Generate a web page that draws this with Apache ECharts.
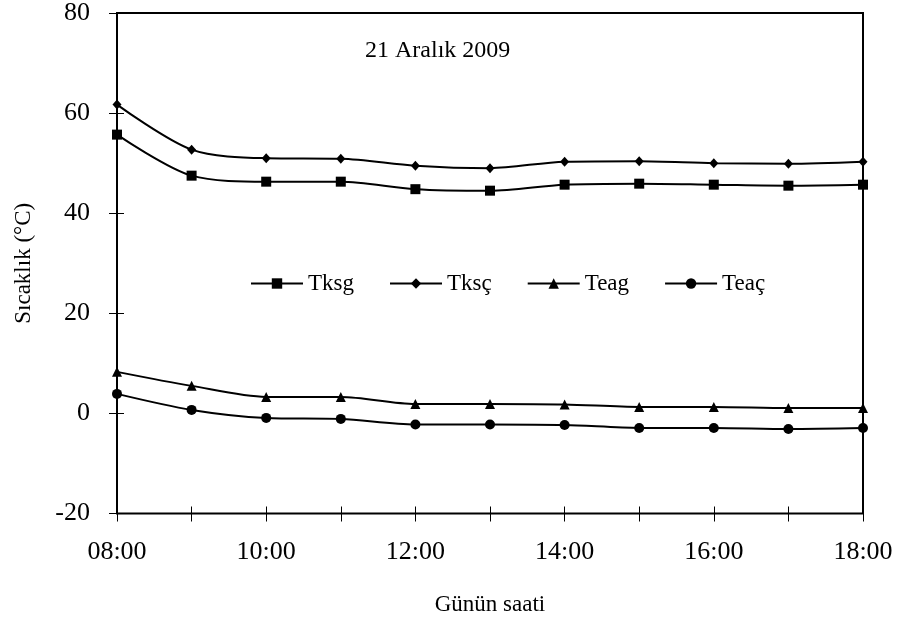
<!DOCTYPE html>
<html>
<head>
<meta charset="utf-8">
<script src="https://cdn.jsdelivr.net/npm/echarts@6/dist/echarts.min.js"></script>
<style>html,body{margin:0;padding:0;background:#fff}#c{width:901px;height:622px}</style>
</head>
<body>
<div id="c"></div>
<script>
var hours = ['08:00','09:00','10:00','11:00','12:00','13:00','14:00','15:00','16:00','17:00','18:00'];
var tksg = [55.7, 47.5, 46.3, 46.3, 44.8, 44.5, 45.7, 45.9, 45.7, 45.5, 45.7];
var tksc = [61.7, 52.7, 51.0, 50.9, 49.5, 49.0, 50.3, 50.4, 50.0, 49.9, 50.3];
var teag = [8.3, 5.5, 3.3, 3.3, 1.9, 1.9, 1.8, 1.3, 1.3, 1.1, 1.1];
var teac = [3.9, 0.7, -0.9, -1.1, -2.2, -2.2, -2.3, -2.9, -2.9, -3.1, -2.9];
var seriesNames = ['Tksg', 'Tksç', 'Teag', 'Teaç'];
var yMin = -20, yMax = 80, yStep = 20;

var FONT = '"Liberation Serif", "Times New Roman", serif';
var chart = echarts.init(document.getElementById('c'), null, {renderer: 'canvas'});
var IN = 7;

function mk(name, data, symbol, size) {
  return {
    name: name, type: 'line', data: data, smooth: 0.3,
    symbol: symbol, symbolSize: size, showSymbol: true,
    lineStyle: {color: '#000', width: 2},
    itemStyle: {color: '#000', borderColor: '#000', borderWidth: 0},
    animation: false
  };
}

var option = {
  animation: false,
  backgroundColor: '#fff',
  title: {
    text: '21 Aralık 2009', left: 365, top: 39, padding: 0,
    textStyle: {fontFamily: FONT, fontSize: 24, fontWeight: 'normal', color: '#000'}
  },
  grid: {left: 117, right: 38, top: 13, height: 500.5, show: true, borderColor: '#000', borderWidth: 2, containLabel: false},
  legend: {
    data: seriesNames, left: 250, top: 272, padding: 0, itemGap: 35, itemWidth: 52, itemHeight: 13,
    textStyle: {fontFamily: FONT, fontSize: 23, color: '#000'}
  },
  xAxis: {
    type: 'category', data: hours, boundaryGap: false, position: 'bottom', offset: -IN,
    axisLine: {show: false, onZero: false},
    axisTick: {show: true, interval: 0, length: 15, lineStyle: {color: '#000', width: 1}},
    axisLabel: {interval: 1, margin: 26 + IN, fontFamily: FONT, fontSize: 26, color: '#000'},
    splitLine: {show: false},
    name: 'Günün saati', nameLocation: 'middle', nameGap: 80 + IN,
    nameTextStyle: {fontFamily: FONT, fontSize: 23, color: '#000'}
  },
  yAxis: {
    type: 'value', min: yMin, max: yMax, interval: yStep, position: 'left', offset: -IN,
    axisLine: {show: false, onZero: false},
    axisTick: {show: true, length: 15, lineStyle: {color: '#000', width: 1}},
    axisLabel: {margin: 27 + IN, fontFamily: FONT, fontSize: 26, color: '#000'},
    splitLine: {show: false},
    name: 'Sıcaklık (°C)', nameLocation: 'middle', nameGap: 82 + IN,
    nameTextStyle: {fontFamily: FONT, fontSize: 23, color: '#000'}
  },
  series: [
    mk(seriesNames[0], tksg, 'rect', 10),
    mk(seriesNames[1], tksc, 'diamond', [9, 10]),
    mk(seriesNames[2], teag, 'triangle', 10),
    mk(seriesNames[3], teac, 'circle', 10)
  ]
};
chart.setOption(option);
</script>
</body>
</html>
